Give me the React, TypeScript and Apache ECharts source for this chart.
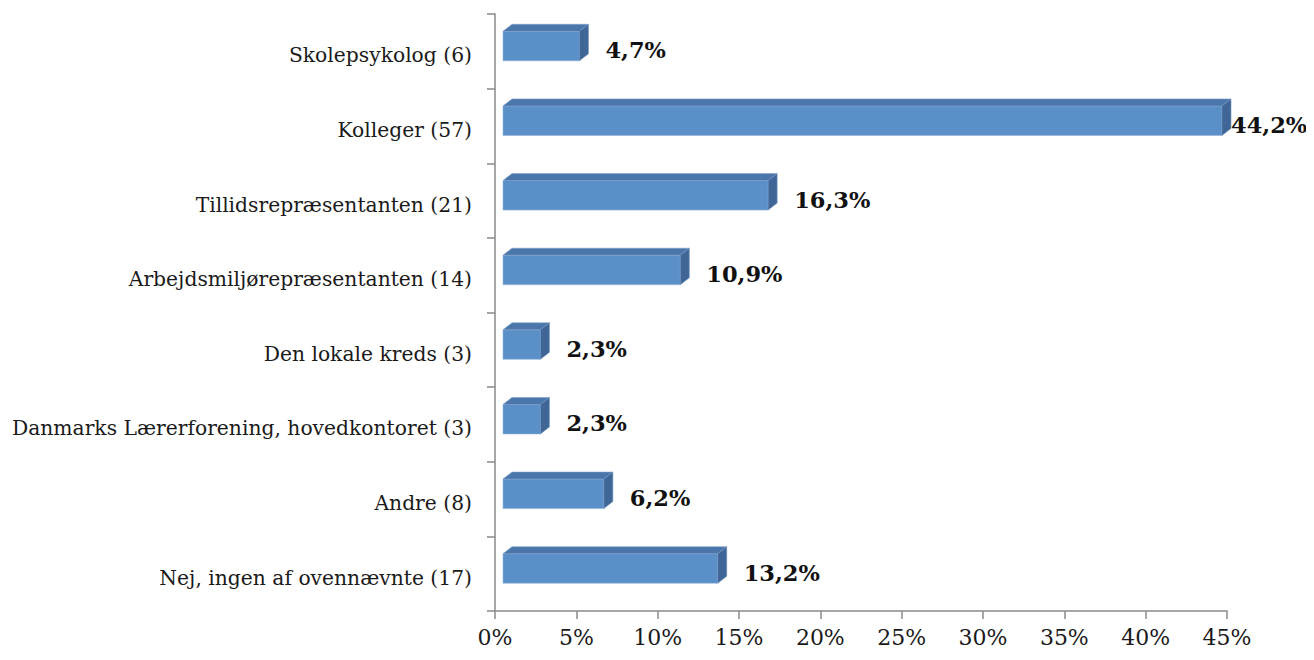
import React, { useEffect, useRef } from "react";
import * as echarts from "echarts";

const categories = [
  "Skolepsykolog (6)",
  "Kolleger (57)",
  "Tillidsrepræsentanten (21)",
  "Arbejdsmiljørepræsentanten (14)",
  "Den lokale kreds (3)",
  "Danmarks Lærerforening, hovedkontoret (3)",
  "Andre (8)",
  "Nej, ingen af ovennævnte (17)",
];
const values = [4.7, 44.2, 16.3, 10.9, 2.3, 2.3, 6.2, 13.2];
const xTicks = { min: 0, max: 45, interval: 5 };

const FRONT = "#5a8fc8";
const TOP = "#4b76ab";
const SIDE = "#3f6697";

export default function App() {
  const ref = useRef<HTMLDivElement>(null);
  useEffect(() => {
    const chart = echarts.init(ref.current!, null, { renderer: "svg" });
    const data = values.map((v, i) => [v, i]);
    chart.setOption({
      animation: false,
      grid: { left: 495, right: 87, top: 14, bottom: 49 },
      xAxis: {
        type: "value",
        min: xTicks.min,
        max: xTicks.max,
        interval: xTicks.interval,
        splitLine: { show: false },
        axisLine: { show: true, lineStyle: { color: "#8a8a8a", width: 1.5 } },
        axisTick: { show: true, length: 8, lineStyle: { color: "#8a8a8a", width: 1.5 } },
        axisLabel: {
          formatter: "{value}%",
          fontFamily: "DejaVu Serif",
          fontSize: 22,
          color: "#1a1a1a",
          margin: 15,
        },
      },
      yAxis: {
        type: "category",
        data: categories,
        inverse: true,
        axisLine: { show: true, lineStyle: { color: "#8a8a8a", width: 1.5 } },
        axisTick: { show: true, length: 8, lineStyle: { color: "#8a8a8a", width: 1.5 } },
        axisLabel: {
          margin: 23,
          formatter: (v: string) => `{a|${v}}`,
          rich: {
            a: {
              fontFamily: "DejaVu Serif",
              fontSize: 20.3,
              color: "#1a1a1a",
              padding: [8, 0, 0, 0],
            },
          },
        },
      },
      series: [
        {
          type: "custom",
          encode: { x: 0, y: 1 },
          data,
          renderItem: (params: any, api: any) => {
            const v = api.value(0);
            const idx = api.value(1);
            const s = api.coord([0, idx]);
            const e = api.coord([v, idx]);
            const cy = s[1];
            const x0 = s[0] + 8;
            const x1 = e[0] + 8;
            const dx = 9;
            const dy = -7;
            const top = cy - 20;
            const bot = cy + 9.5;
            const label = v.toFixed(1).replace(".", ",") + "%";
            const lx = Math.min(x1 + dx + 17, api.getWidth() - 83);
            return {
              type: "group",
              children: [
                {
                  type: "rect",
                  shape: { x: x0, y: top, width: x1 - x0, height: bot - top },
                  style: { fill: FRONT, stroke: "#8fb2da", lineWidth: 0.6 },
                },
                {
                  type: "polygon",
                  shape: {
                    points: [
                      [x0, top],
                      [x0 + dx, top + dy],
                      [x1 + dx, top + dy],
                      [x1, top],
                    ],
                  },
                  style: { fill: TOP, stroke: "#7c9fca", lineWidth: 0.6 },
                },
                {
                  type: "polygon",
                  shape: {
                    points: [
                      [x1, top],
                      [x1 + dx, top + dy],
                      [x1 + dx, bot + dy],
                      [x1, bot],
                    ],
                  },
                  style: { fill: SIDE, stroke: "#6f93c0", lineWidth: 0.6 },
                },
                {
                  type: "text",
                  style: {
                    x: lx,
                    y: cy - 1,
                    text: label,
                    fill: "#111",
                    font: "bold 22.5px 'DejaVu Serif'",
                    align: "left",
                    verticalAlign: "middle",
                  },
                },
              ],
            };
          },
        },
      ],
    });
    return () => chart.dispose();
  }, []);
  return <div ref={ref} style={{ width: 1314, height: 660, margin: -8 }} />;
}
